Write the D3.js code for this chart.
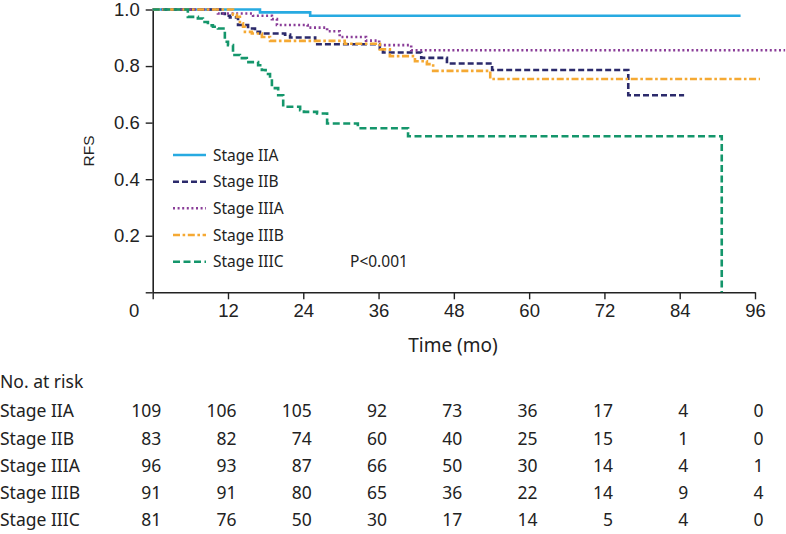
<!DOCTYPE html>
<html>
<head>
<meta charset="utf-8">
<script src="https://cdn.jsdelivr.net/npm/d3@7"></script>
<style>
  html, body { margin: 0; padding: 0; background: #fff; }
  svg { display: block; }
</style>
</head>
<body>
<svg id="chart" width="786" height="534"></svg>
<script>
// ---- data ----
const seriesNames = ["Stage IIA", "Stage IIB", "Stage IIIA", "Stage IIIB", "Stage IIIC"];

const timeIIA = [0, 17.1, 25.1, 93.7];
const survIIA = [1.0, 0.99, 0.978, 0.978];

const timeIIB = [0, 10.8, 11.5, 12.3, 13.6, 15.2, 16.3, 17.1, 21.1, 21.9, 25.9, 36.2, 36.7, 42.8, 46.9, 54.1, 75.8, 84.7];
const survIIB = [1.0, 0.986, 0.978, 0.972, 0.945, 0.933, 0.921, 0.915, 0.911, 0.901, 0.877, 0.862, 0.848, 0.829, 0.809, 0.786, 0.697, 0.697];

const timeIIIA = [0, 10.4, 16.0, 19.0, 19.8, 24.7, 27.8, 29.8, 34.0, 36.1, 41.2, 100.8];
const survIIIA = [1.0, 0.986, 0.978, 0.966, 0.945, 0.936, 0.923, 0.903, 0.89, 0.874, 0.856, 0.856];

const timeIIIB = [0, 12.8, 13.4, 13.9, 14.4, 14.7, 15.8, 17.4, 18.7, 30.6, 36.2, 37.8, 41.8, 43.7, 44.7, 53.8, 96.8];
const survIIIB = [1.0, 0.982, 0.974, 0.951, 0.939, 0.921, 0.915, 0.903, 0.889, 0.879, 0.859, 0.835, 0.817, 0.807, 0.783, 0.754, 0.754];

const timeIIIC = [0, 5.6, 7.2, 8.0, 8.8, 9.6, 10.4, 11.5, 12.0, 12.8, 13.9, 15.0, 16.8, 17.4, 18.0, 18.7, 19.0, 20.0, 20.8, 23.5, 24.1, 26.2, 27.8, 32.7, 40.7, 90.7];
const survIIIC = [1.0, 0.974, 0.968, 0.956, 0.944, 0.939, 0.933, 0.886, 0.874, 0.839, 0.828, 0.814, 0.803, 0.786, 0.772, 0.757, 0.722, 0.697, 0.656, 0.644, 0.638, 0.632, 0.597, 0.580, 0.552, 0.0];

const xTicks = [0, 12, 24, 36, 48, 60, 72, 84, 96];
const yTicks = [0, 0.2, 0.4, 0.6, 0.8, 1.0];
const pText = "P<0.001";

const atRiskIIA = [109, 106, 105, 92, 73, 36, 17, 4, 0];
const atRiskIIB = [83, 82, 74, 60, 40, 25, 15, 1, 0];
const atRiskIIIA = [96, 93, 87, 66, 50, 30, 14, 4, 1];
const atRiskIIIB = [91, 91, 80, 65, 36, 22, 14, 9, 4];
const atRiskIIIC = [81, 76, 50, 30, 17, 14, 5, 4, 0];

// ---- styles ----
const colors = ["#27AAE1", "#2B2A6B", "#8A3D98", "#F5A933", "#14966B"];
const dashes = [null, "6,3", "2,2.6", "7,2.6,2.6,2.6", "7,3.5"];
const tickFont = "'Liberation Sans', Arial, sans-serif";
const textFont = "'Noto Sans', 'Open Sans', sans-serif";

const svg = d3.select("#chart");
const x = d3.scaleLinear().domain([0, 96]).range([152.7, 755]);
const y = d3.scaleLinear().domain([0, 1]).range([292.3, 9.5]);

// axes
const gx = svg.append("g").attr("transform", `translate(0,${y(0)})`)
  .call(d3.axisBottom(x).tickValues(xTicks).tickSize(7).tickSizeOuter(0).tickPadding(5));
const gy = svg.append("g").attr("transform", `translate(${x(0)},0)`)
  .call(d3.axisLeft(y).tickValues(yTicks).tickSize(7).tickSizeOuter(0).tickPadding(6)
    .tickFormat(d => d === 0 ? "" : d3.format(".1f")(d)));
[gx, gy].forEach(g => {
  g.selectAll("path.domain").attr("stroke", "#222").attr("stroke-width", 1.6);
  g.selectAll(".tick line").attr("stroke", "#222").attr("stroke-width", 1.4);
  g.selectAll(".tick text").attr("font-family", tickFont).attr("font-size", 18.5).attr("fill", "#222");
});
gx.selectAll(".tick text").filter(d => d === 0).attr("dx", -19);

// axis titles
svg.append("text").attr("transform", `translate(94,151) rotate(-90)`)
  .attr("text-anchor", "middle").attr("font-family", tickFont).attr("font-size", 15.5)
  .attr("fill", "#222").text("RFS");
svg.append("text").attr("x", 453).attr("y", 352).attr("text-anchor", "middle")
  .attr("font-family", textFont).attr("font-size", 19).attr("fill", "#222").text("Time (mo)");

// curves
const timesAll = [timeIIA, timeIIB, timeIIIA, timeIIIB, timeIIIC];
const survAll = [survIIA, survIIB, survIIIA, survIIIB, survIIIC];
const line = d3.line().x(d => x(d[0])).y(d => y(d[1])).curve(d3.curveStepAfter);
seriesNames.forEach((name, i) => {
  const pts = timesAll[i].map((t, k) => [t, survAll[i][k]]);
  svg.append("path").datum(pts).attr("d", line)
    .attr("fill", "none").attr("stroke", colors[i]).attr("stroke-width", 2.6)
    .attr("stroke-dasharray", dashes[i]);
});

// legend
const legY = [155, 181.7, 208.3, 235, 261.7];
seriesNames.forEach((name, i) => {
  svg.append("line").attr("x1", 173).attr("x2", 206).attr("y1", legY[i]).attr("y2", legY[i])
    .attr("stroke", colors[i]).attr("stroke-width", 2.4).attr("stroke-dasharray", dashes[i]);
  svg.append("text").attr("x", 213).attr("y", legY[i] + 5.5)
    .attr("font-family", textFont).attr("font-size", 15.5).attr("fill", "#222").text(name);
});
svg.append("text").attr("x", 350).attr("y", legY[4] + 5.5)
  .attr("font-family", textFont).attr("font-size", 15.5).attr("fill", "#222").text(pText);

// number at risk table
svg.append("text").attr("x", 0).attr("y", 388)
  .attr("font-family", textFont).attr("font-size", 17.5).attr("fill", "#222").text("No. at risk");
const riskAll = [atRiskIIA, atRiskIIB, atRiskIIIA, atRiskIIIB, atRiskIIIC];
const rowY = [417, 444.5, 471.5, 498.5, 525.5];
seriesNames.forEach((name, i) => {
  svg.append("text").attr("x", 0).attr("y", rowY[i])
    .attr("font-family", textFont).attr("font-size", 17.5).attr("fill", "#222").text(name);
  riskAll[i].forEach((v, k) => {
    svg.append("text").attr("x", x(xTicks[k]) + 8.5).attr("y", rowY[i]).attr("text-anchor", "end")
      .attr("font-family", textFont).attr("font-size", 17.5).attr("fill", "#222").text(v);
  });
});
</script>
</body>
</html>
